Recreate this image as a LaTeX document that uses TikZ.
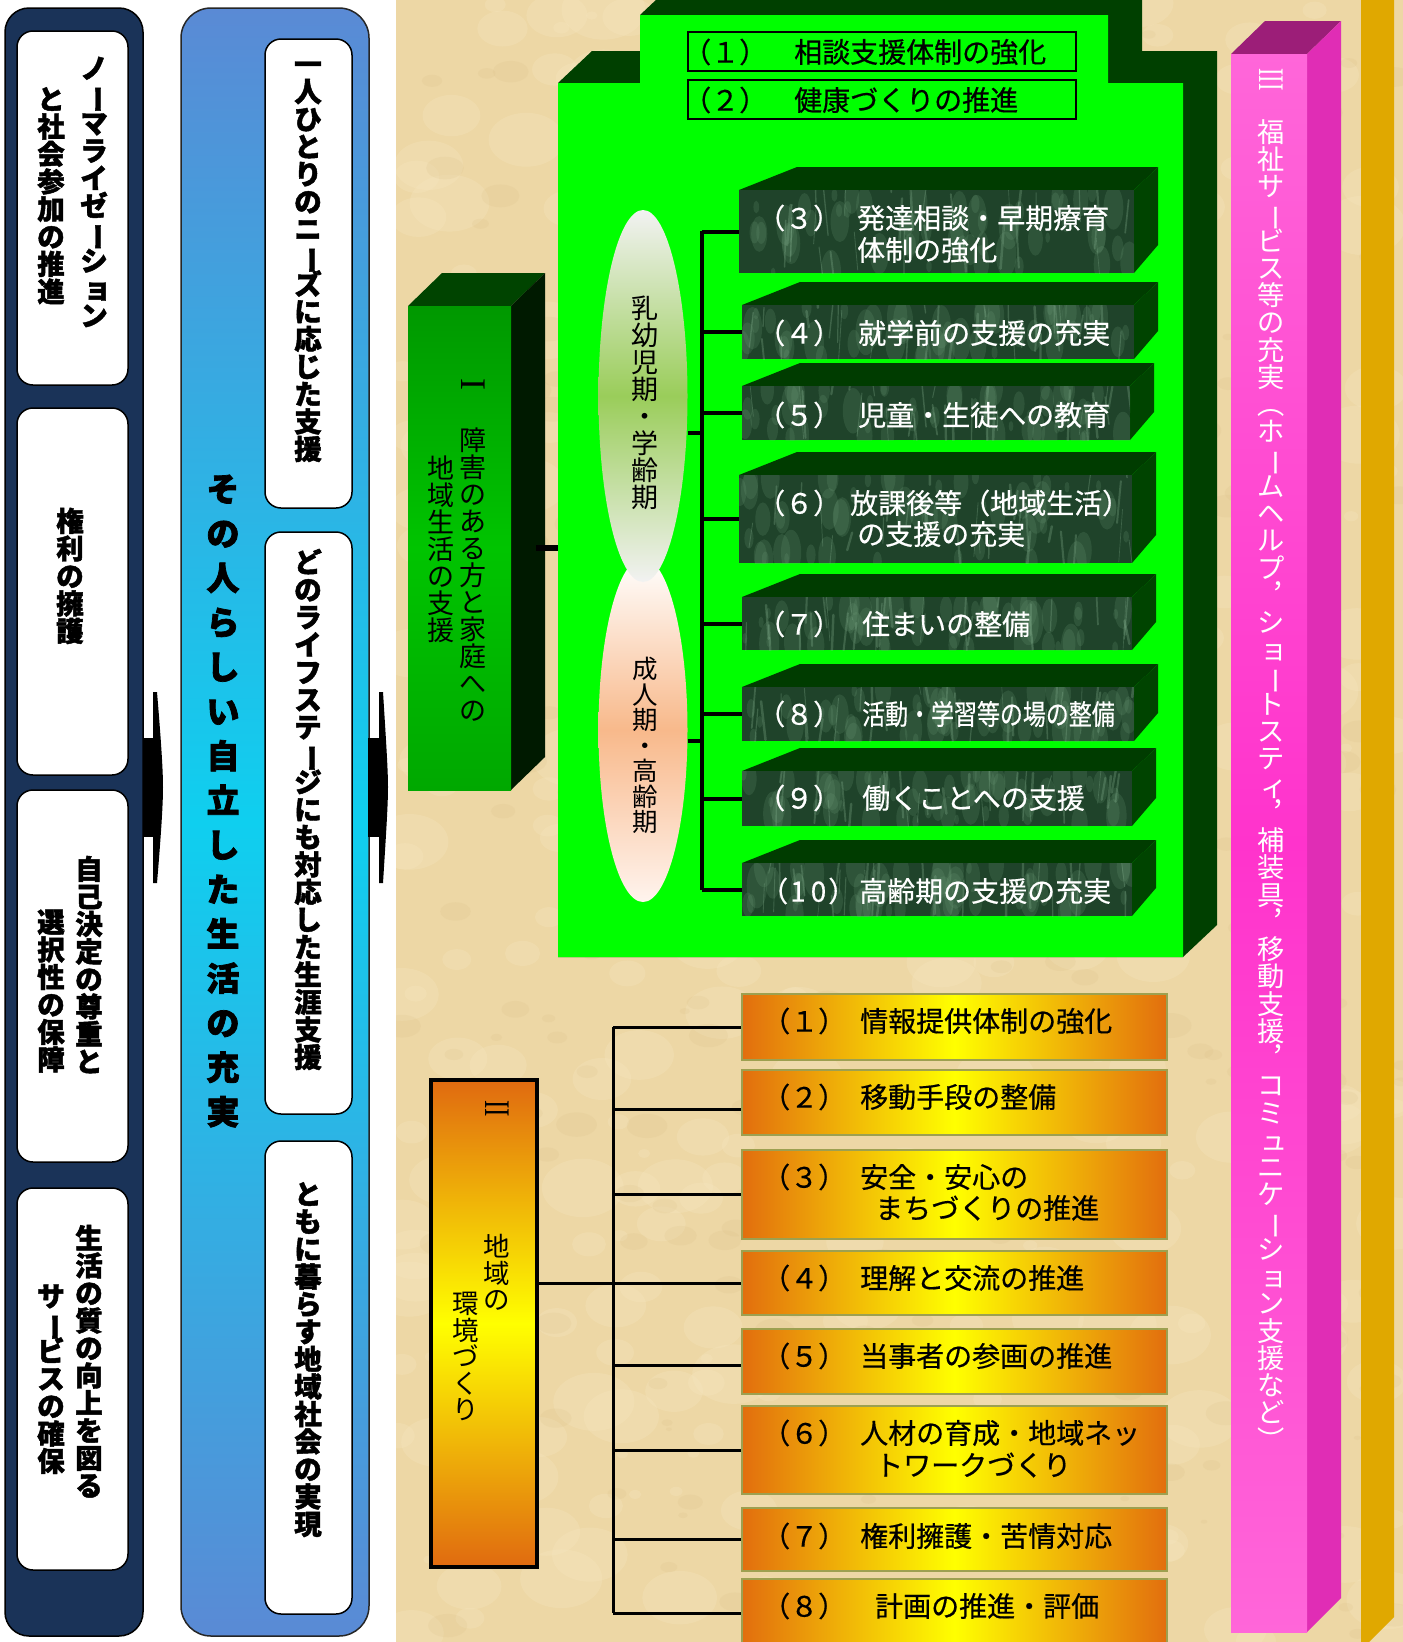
\documentclass[tikz,border=0pt]{standalone}
\usepackage{fontspec}
\usepackage{graphicx}
\usetikzlibrary{fit,shapes.geometric}
\newfontfamily\jp[FakeBold=0.5]{Noto Sans CJK JP}
\newfontfamily\jpr{Noto Sans CJK JP}
\newfontfamily\jpb[FakeBold=1.6]{Noto Sans CJK JP}
\newfontfamily\jpbb[FakeBold=2.2]{Noto Sans CJK JP}
\newfontfamily\rom{Liberation Serif}
\makeatletter
\newdimen\vgap \vgap=0pt
\def\vch@end{\vch@end}
\def\vch@endmark{\vch@end}
\def\vtext#1{\vbox{\offinterlineskip\vch@r#1\vch@end}}
\def\vch@r#1{\def\vch@tmp{#1}\ifx\vch@tmp\vch@endmark\else\vcell{#1}\kern\vgap\expandafter\vch@r\fi}
\def\vcell#1{\hbox to 1em{\hss\vrule height .88em depth .12em width 0pt\smash{#1}\hss}}
\makeatother
\newcommand\vl{\rotatebox[origin=c]{-90}{ー}}
\newcommand\sk[1]{\kern.12em #1\kern-.12em}
\definecolor{navy}{HTML}{1A3358}
\definecolor{bluA}{HTML}{5A8AD5}
\definecolor{cyanM}{HTML}{0FCFEF}
\definecolor{parch}{HTML}{EDD7A5}
\definecolor{parchL}{HTML}{F7E8C2}
\definecolor{parchD}{HTML}{D8BC85}
\definecolor{gbright}{HTML}{00FF00}
\definecolor{gdark}{HTML}{004000}
\definecolor{mbase}{HTML}{1F432A}
\definecolor{mlight}{HTML}{6E9C78}
\definecolor{mstreak}{HTML}{86B190}
\definecolor{gtop}{HTML}{003C00}
\definecolor{gside}{HTML}{004400}
\definecolor{Ia}{HTML}{009800}
\definecolor{Im}{HTML}{00C400}
\definecolor{Ib}{HTML}{00A800}
\definecolor{Itop}{HTML}{004400}
\definecolor{Iside}{HTML}{001A00}
\definecolor{lensAe}{HTML}{F2F2F2}
\definecolor{lensAm}{HTML}{9ACD5A}
\definecolor{lensBm}{HTML}{F8B98B}
\definecolor{lensBe}{HTML}{FFF4EE}
\definecolor{orA}{HTML}{E26E0E}
\definecolor{orB}{HTML}{E06A10}
\definecolor{obord}{HTML}{9DA050}
\definecolor{pinkA}{HTML}{FF66D9}
\definecolor{pinkM}{HTML}{FF33CC}
\definecolor{pinkTop}{HTML}{9C1E78}
\definecolor{pinkSide}{HTML}{E02DB5}
\definecolor{goldbar}{HTML}{E0A800}
\newcommand\fs[1]{\fontsize{#1}{#1}\selectfont}
\newcommand\marble[4]{%
  \begin{scope}
  \clip (#1,#2) rectangle (#3,#4);
  \fill[mbase] (#1,#2) rectangle (#3,#4);
  \foreach \k in {1,...,55}{%
    \pgfmathsetmacro\mx{#1+rnd*(#3-#1)}%
    \pgfmathsetmacro\my{#2+rnd*(#4-#2)}%
    \pgfmathsetmacro\mr{5+rnd*18}%
    \pgfmathsetmacro\mrx{\mr*0.45}%
    \fill[mlight,opacity=0.2] (\mx,\my) ellipse ({\mrx} and {\mr});
  }
  \foreach \k in {1,...,30}{%
    \pgfmathsetmacro\mx{#1+rnd*(#3-#1)}%
    \pgfmathsetmacro\my{#2+rnd*(#4-#2)-20}%
    \pgfmathsetmacro\ml{15+rnd*40}%
    \pgfmathsetmacro\mw{0.6+rnd*2}%
    \pgfmathsetmacro\mdx{rand*5}%
    \draw[mstreak,opacity=0.3,line width=\mw pt,line cap=round] (\mx,\my) -- ++({\mdx},{\ml});
  }
  \end{scope}}
\newcommand\gbox[5]{%
  \fill[gtop] (#2,#3) -- ++(58,-23) -- (#4+24,#3-23) -- (#4,#3) -- cycle;
  \fill[gside] (#4,#3) -- (#4+24,#3-23) -- (#4+24,#5-28) -- (#4,#5) -- cycle;
  \marble{#2}{#3}{#4}{#5}
  \node[fit={(#2,#3) (#4,#5)},inner sep=0pt] (#1) {};}
\begin{document}
\begin{tikzpicture}[x=1pt,y=-1pt,
  conn/.style={line width=4pt,black},
  oconn/.style={line width=3pt,black},
  vt/.style={anchor=north,inner sep=0pt},
  ht/.style={anchor=west,inner sep=0pt},
  wbox/.style={draw=black,line width=1.5pt,fill=white,rounded corners=16pt,inner sep=0pt},
  obox/.style={draw=obord,line width=1.8pt,inner sep=0pt,left color=orA,right color=orA,middle color=yellow},
  bvt/.style={vt,font=\jpb\bfseries\fs{27.5}},
  gtx/.style={ht,text=white,font=\jp\fs{28}},
  otx/.style={ht,text=black,font=\jp\fs{28}},
  romn/.style={rotate=-90,anchor=west,inner sep=0pt,font=\rom\fs{36}}]
\useasboundingbox (0,0) rectangle (1403,1642);
\clip (0,0) rectangle (1403,1642);
\fill[white] (0,0) rectangle (1403,1642);
% parchment background
\begin{scope}
  \clip (396,0) rectangle (1403,1642);
  \fill[parch] (396,0) rectangle (1403,1642);
  \pgfmathsetseed{11}
  \foreach \k in {1,...,420}{%
    \pgfmathsetmacro\px{396+rnd*1007}%
    \pgfmathsetmacro\py{rnd*1642}%
    \pgfmathsetmacro\pr{4+rnd*26}%
    \pgfmathsetmacro\prx{\pr*1.4}%
    \fill[parchL,opacity=0.28] (\px,\py) ellipse ({\prx} and {\pr});
  }
  \foreach \k in {1,...,300}{%
    \pgfmathsetmacro\px{396+rnd*1007}%
    \pgfmathsetmacro\py{rnd*1642}%
    \pgfmathsetmacro\pr{3+rnd*18}%
    \pgfmathsetmacro\pry{\pr*0.6}%
    \fill[parchD,opacity=0.16] (\px,\py) ellipse ({\pr} and {\pry});
  }
\end{scope}
% ---------- left navy panel ----------
\node[fit={(5,8) (143,1636)},inner sep=0pt,draw=black,line width=1.5pt,fill=navy,rounded corners=24pt] (navyp) {};
\node[wbox,fit={(17,31) (128,385)}] (w1) {};
\node[wbox,fit={(17,408) (128,775)}] (w2) {};
\node[wbox,fit={(17,790) (128,1162)}] (w3) {};
\node[wbox,fit={(17,1188) (128,1570)}] (w4) {};
\node[bvt] (t1a) at (94,54) {\vtext{ノ\vl マライゼ\vl シ{\sk{ョ}}ン}};
\node[bvt] (t1b) at (51,85) {\vtext{と社会参加の推進}};
\node[bvt] (t2) at (70,507) {\vtext{権利の擁護}};
\node[bvt] (t3a) at (89,855) {\vtext{自己決定の尊重と}};
\node[bvt] (t3b) at (51,908) {\vtext{選択性の保障}};
\node[bvt] (t4a) at (89,1224) {\vtext{生活の質の向上を図る}};
\node[bvt] (t4b) at (51,1282) {\vtext{サ\vl ビスの確保}};
% ---------- blue panel ----------
\node[fit={(181,8) (369,1636)},inner sep=0pt,draw=black!85,line width=1.5pt,rounded corners=30pt,top color=bluA,bottom color=bluA,middle color=cyanM] (bluep) {};
\node[wbox,fit={(265,39) (352,508)}] (wa) {};
\node[wbox,fit={(265,532) (352,1114)}] (wb) {};
\node[wbox,fit={(265,1141) (352,1614)}] (wc) {};
\node[bvt] (ta) at (308,50) {\vtext{一人ひとりのニ\vl ズに応じた支援}};
\node[bvt] (tb) at (308,548) {\vtext{どのライフステ\vl ジにも対応した生涯支援}};
\node[bvt] (tc) at (308,1180) {\vtext{ともに暮らす地域社会の実現}};
\node[vt,font=\jpbb\bfseries\fs{33}] (tmain) at (223,472) {\vgap=11.5pt\vtext{その人らしい自立した生活の充実}};
% arrows
\fill[black] (143,738) rectangle (155,837);
\fill[black] (153,692) -- (157,692) .. controls (161,740) and (163,770) .. (163,787) .. controls (163,805) and (161,835) .. (157,883) -- (153,883) -- cycle;
\fill[black] (368,738) rectangle (382,837);
\fill[black] (379,692) -- (383,692) .. controls (386,740) and (388,770) .. (388,787) .. controls (388,805) and (386,835) .. (383,883) -- (379,883) -- cycle;
% ---------- gold bar and pink bar ----------
\fill[goldbar] (1361,-2) -- (1394,-2) -- (1394,1617) -- (1369,1642) -- (1361,1642) -- cycle;
\fill[pinkTop] (1231,54) -- (1265,21) -- (1341,21) -- (1307,54) -- cycle;
\fill[pinkSide] (1307,54) -- (1341,21) -- (1341,1598) -- (1307,1632) -- cycle;
\node[fit={(1231,54) (1307,1632)},inner sep=0pt,top color=pinkA,bottom color=pinkA,middle color=pinkM] (p3) {};
\node[romn,text=white] (p3n) at (1271,68) {\scalebox{0.62}[1]{III}};
\node[vt,text=white,font=\jpr\fs{27.25}] (p3t) at (1271,118) {\vtext{福祉サ\vl ビス等の充実︵ホ\vl ムヘルプ︐シ{\sk{ョ}}\vl トステ{\sk{ィ}}︐補装具︐移動支援︐コミ{\sk{ュ}}ニケ\vl シ{\sk{ョ}}ン支援など︶}};
% ---------- green block ----------
\fill[gdark] (558,957) -- (558,83) -- (592,51) -- (640,51) -- (640,15) -- (674,-17) -- (1142,-17) -- (1142,51) -- (1217,51) -- (1217,925) -- (1183,957) -- cycle;
\fill[gbright] (558,83) -- (640,83) -- (640,15) -- (1108,15) -- (1108,83) -- (1183,83) -- (1183,957) -- (558,957) -- cycle;
\coordinate (gbw) at (558,548);
\node[fit={(688,32) (1076,71)},inner sep=0pt,draw=black,line width=2.5pt] (k1) {};
\node[fit={(688,80) (1076,119)},inner sep=0pt,draw=black,line width=2.5pt] (k2) {};
\node[otx] at (683,52) {（１）};
\node[otx] at (794,52) {相談支援体制の強化};
\node[otx] at (683,100) {（２）};
\node[otx] at (794,100) {健康づくりの推進};
% lenses
\node[ellipse,minimum width=89pt,minimum height=344pt,inner sep=0pt,top color=white,bottom color=lensBe,middle color=lensBm] (lensB) at (643,730) {};
\node[ellipse,minimum width=89pt,minimum height=372pt,inner sep=0pt,top color=lensAe,bottom color=lensAe,middle color=lensAm] (lensA) at (643,396) {};
\node[vt,font=\jpr\fs{27}] at (645,295) {\vtext{乳幼児期・学齢期}};
\node[vt,font=\jpr\fs{25.5}] at (645,656) {\vtext{成人期・高齢期}};
% dark boxes
\pgfmathsetseed{5}
\gbox{g3}{739}{190}{1134}{273}
\gbox{g4}{742}{305}{1134}{359}
\gbox{g5}{742}{386}{1130}{440}
\gbox{g6}{739}{475}{1132}{563}
\gbox{g7}{742}{597}{1132}{650}
\gbox{g8}{742}{687}{1134}{741}
\gbox{g9}{742}{771}{1132}{826}
\gbox{g10}{742}{863}{1132}{916}
% connectors green
\coordinate (sp1) at (702,231);
\coordinate (sp2) at (702,890);
\draw[conn] (sp1) -- (sp2);
\foreach \b in {g3,g4,g5,g6,g7,g8,g9,g10}{\draw[conn] (sp1 |- \b.west) -- (\b.west);}
\draw[conn] (lensA.east |- 0,433) -- (sp1 |- 0,433);
\draw[conn] (lensB.east |- 0,741) -- (sp1 |- 0,741);
% texts in dark boxes
\node[gtx] at (757,218) {（３）};
\node[gtx] at (857,218) {発達相談・早期療育};
\node[gtx] at (857,250) {体制の強化};
\node[gtx] at (757,333) {（４）};
\node[gtx] at (858,333) {就学前の支援の充実};
\node[gtx] at (757,415) {（５）};
\node[gtx] at (858,415) {児童・生徒への教育};
\node[gtx] at (757,503) {（６）};
\node[gtx] at (850,503) {放課後等（地域生活）};
\node[gtx] at (857,534) {の支援の充実};
\node[gtx] at (757,624) {（７）};
\node[gtx] at (862,624) {住まいの整備};
\node[gtx] at (757,714) {（８）};
\node[gtx] at (862,714) {\scalebox{0.82}[1]{活動・学習等の場の整備}};
\node[gtx] at (757,798) {（９）};
\node[gtx] at (862,798) {働くことへの支援};
\node[gtx] at (760,891) {（\kern2pt 1\kern5pt 0\kern2pt）};
\node[gtx] at (859,891) {高齢期の支援の充実};
% ---------- box I ----------
\fill[Itop] (408,306) -- (442,273) -- (545,273) -- (511,306) -- cycle;
\fill[Iside] (511,306) -- (545,273) -- (545,757) -- (511,790) -- cycle;
\node[fit={(408,306) (511,790)},inner sep=0pt,top color=Ia,bottom color=Ib,middle color=Im] (I1) {};
\draw[line width=6pt] ([xshift=25pt]I1.east) -- (gbw);
\node[romn] at (473,378) {I};
\node[vt,font=\jpr\fs{27}] at (473,427) {\vtext{障害のある方と家庭への}};
\node[vt,font=\jpr\fs{27}] at (441,455) {\vtext{地域生活の支援}};
% ---------- orange section ----------
\node[fit={(431,1080) (537,1567)},inner sep=0pt,draw=black,line width=3.5pt,top color=orB,bottom color=orB,middle color=yellow] (II) {};
\node[romn] at (497,1100) {\scalebox{0.7}[1]{II}};
\node[vt,font=\jpr\fs{26.5}] at (497,1233) {\vtext{地域の}};
\node[vt,font=\jpr\fs{26.5}] at (466,1290) {\vtext{環境づくり}};
\node[obox,fit={(742,994) (1167,1060)}] (o1) {};
\node[obox,fit={(742,1070) (1167,1135)}] (o2) {};
\node[obox,fit={(742,1150) (1167,1239)}] (o3) {};
\node[obox,fit={(742,1251) (1167,1315)}] (o4) {};
\node[obox,fit={(742,1329) (1167,1394)}] (o5) {};
\node[obox,fit={(742,1406) (1167,1494)}] (o6) {};
\node[obox,fit={(742,1508) (1167,1571)}] (o7) {};
\node[obox,fit={(742,1579) (1167,1660)}] (o8) {};
\coordinate (os1) at (613,1027);
\coordinate (os2) at (613,1613);
\draw[oconn] (os1) -- (os2);
\draw[oconn] (os1) -- (o1.west);
\draw[oconn] (os1 |- 0,1109) -- (o2.west |- 0,1109);
\draw[oconn] (os1 |- o3.west) -- (o3.west);
\draw[oconn] (II.east |- o4.west) -- (o4.west);
\draw[oconn] (os1 |- 0,1365) -- (o5.west |- 0,1365);
\draw[oconn] (os1 |- o6.west) -- (o6.west);
\draw[oconn] (os1 |- o7.west) -- (o7.west);
\draw[oconn] (os2) -- (o8.west |- os2);
\node[otx] at (762,1021) {（１）};
\node[otx] at (860,1021) {情報提供体制の強化};
\node[otx] at (762,1097) {（２）};
\node[otx] at (860,1097) {移動手段の整備};
\node[otx] at (762,1177) {（３）};
\node[otx] at (860,1177) {安全・安心の};
\node[otx] at (875,1208) {まちづくりの推進};
\node[otx] at (762,1278) {（４）};
\node[otx] at (860,1278) {理解と交流の推進};
\node[otx] at (762,1356) {（５）};
\node[otx] at (860,1356) {当事者の参画の推進};
\node[otx] at (762,1433) {（６）};
\node[otx] at (860,1433) {人材の育成・地域ネッ};
\node[otx] at (875,1465) {トワークづくり};
\node[otx] at (762,1536) {（７）};
\node[otx] at (860,1536) {権利擁護・苦情対応};
\node[otx] at (762,1606) {（８）};
\node[otx] at (875,1606) {計画の推進・評価};
\end{tikzpicture}
\end{document}
